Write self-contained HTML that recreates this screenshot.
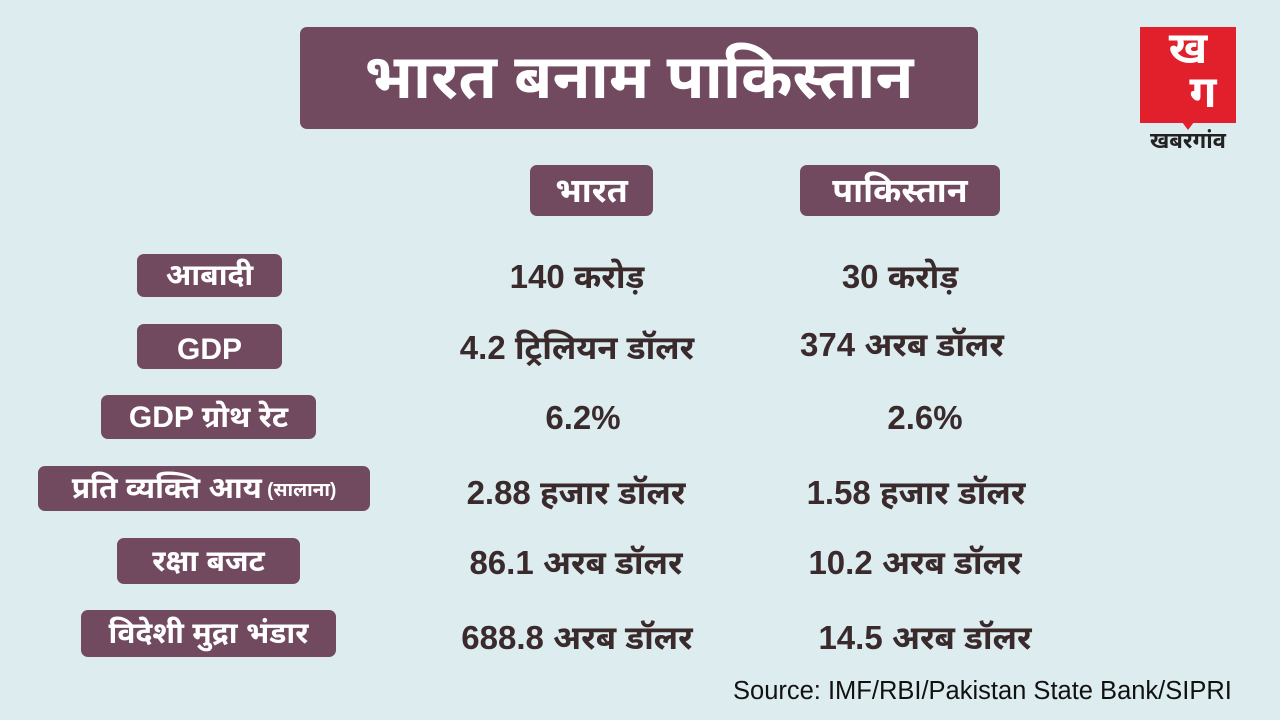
<!DOCTYPE html>
<html><head><meta charset="utf-8"><style>
body{margin:0;width:1280px;height:720px;background:#dcecef;position:relative;overflow:hidden;font-family:"Liberation Sans","Noto Sans Devanagari",sans-serif;font-weight:bold}
.b{position:absolute;background:#724a60;color:#fff;border-radius:7px;display:flex;align-items:center;justify-content:center;white-space:nowrap;padding-top:6px;box-sizing:border-box}
.v{position:absolute;color:#3a2a2c;font-size:33px;text-align:center;white-space:nowrap;width:340px;line-height:40px}
</style></head><body>
<div class="b" style="left:300px;top:27px;width:678px;height:102px;font-size:62px;padding-top:10px">भारत बनाम पाकिस्तान</div>
<div class="b" style="left:530px;top:165px;width:123px;height:51px;font-size:34px">भारत</div>
<div class="b" style="left:800px;top:165px;width:200px;height:51px;font-size:34px">पाकिस्तान</div>
<div class="b" style="left:137px;top:254px;width:145px;height:43px;font-size:30px">आबादी</div>
<div class="b" style="left:137px;top:324px;width:145px;height:45px;font-size:30px">GDP</div>
<div class="b" style="left:101px;top:395px;width:215px;height:44px;font-size:30px">GDP ग्रोथ रेट</div>
<div class="b" style="left:38px;top:466px;width:332px;height:45px;font-size:30px">प्रति व्यक्ति आय <span style="font-size:19px">&nbsp;(सालाना)</span></div>
<div class="b" style="left:117px;top:538px;width:183px;height:46px;font-size:30px">रक्षा बजट</div>
<div class="b" style="left:81px;top:610px;width:255px;height:47px;font-size:30px">विदेशी मुद्रा भंडार</div>
<div class="v" style="left:407px;top:257px">140 करोड़</div>
<div class="v" style="left:730px;top:257px">30 करोड़</div>
<div class="v" style="left:407px;top:328px">4.2 ट्रिलियन डॉलर</div>
<div class="v" style="left:732px;top:325px">374 अरब डॉलर</div>
<div class="v" style="left:413px;top:398px">6.2%</div>
<div class="v" style="left:755px;top:398px">2.6%</div>
<div class="v" style="left:406px;top:473px">2.88 हजार डॉलर</div>
<div class="v" style="left:746px;top:473px">1.58 हजार डॉलर</div>
<div class="v" style="left:406px;top:543px">86.1 अरब डॉलर</div>
<div class="v" style="left:745px;top:543px">10.2 अरब डॉलर</div>
<div class="v" style="left:407px;top:618px">688.8 अरब डॉलर</div>
<div class="v" style="left:755px;top:618px">14.5 अरब डॉलर</div>
<div style="position:absolute;left:733px;top:677px;font-size:25.5px;font-weight:normal;color:#111;white-space:nowrap">Source: IMF/RBI/Pakistan State Bank/SIPRI</div>
<div style="position:absolute;left:1140px;top:27px;width:96px;height:96px;background:#e2202b;color:#fff;font-size:44px;line-height:44px;text-align:center">ख<br><span style="margin-left:30px">ग</span></div>
<div style="position:absolute;left:1182px;top:122px;width:0;height:0;border-left:6px solid transparent;border-right:6px solid transparent;border-top:8px solid #e2202b"></div>
<div style="position:absolute;left:1138px;top:128px;width:100px;text-align:center;font-size:22px;color:#222">खबरगांव</div>
</body></html>
